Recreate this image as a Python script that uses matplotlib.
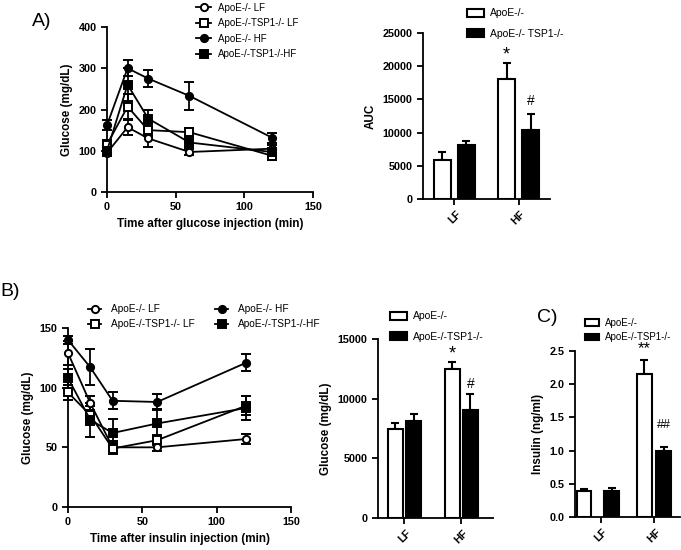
import matplotlib
matplotlib.use("Agg")
import matplotlib.pyplot as plt
from matplotlib import font_manager as fm
from matplotlib.lines import Line2D
from matplotlib.patches import Patch
import numpy as np

# ---------------- data ----------------
time_gtt = [0, 15, 30, 60, 120]
gtt_apoe_lf = [95, 157, 130, 97, 105]
gtt_apoe_lf_err = [8, 18, 20, 8, 8]
gtt_tsp_lf = [115, 207, 150, 145, 88]
gtt_tsp_lf_err = [10, 30, 15, 10, 10]
gtt_apoe_hf = [162, 300, 275, 233, 132]
gtt_apoe_hf_err = [12, 20, 20, 33, 12]
gtt_tsp_hf = [100, 260, 178, 120, 97]
gtt_tsp_hf_err = [10, 40, 20, 10, 10]

diets = ["LF", "HF"]
auc_apoe = [5900, 18050]
auc_apoe_err = [1200, 2400]
auc_tsp = [8200, 10450]
auc_tsp_err = [500, 2350]

time_itt = [0, 15, 30, 60, 120]
itt_apoe_lf = [129, 87, 50, 50, 57]
itt_apoe_lf_err = [10, 6, 5, 3, 4]
itt_tsp_lf = [96, 77, 49, 56, 85]
itt_tsp_lf_err = [6, 8, 5, 4, 8]
itt_apoe_hf = [140, 117, 89, 88, 121]
itt_apoe_hf_err = [3, 15, 7, 7, 7]
itt_tsp_hf = [108, 73, 62, 70, 83]
itt_tsp_hf_err = [8, 14, 12, 12, 10]

itt_auc_apoe = [7420, 12480]
itt_auc_apoe_err = [500, 560]
itt_auc_tsp = [8140, 9040]
itt_auc_tsp_err = [560, 1340]

insulin_apoe = [0.39, 2.16]
insulin_apoe_err = [0.03, 0.20]
insulin_tsp = [0.39, 0.99]
insulin_tsp_err = [0.04, 0.06]

legend_lines = ["ApoE-/- LF", "ApoE-/-TSP1-/- LF", "ApoE-/- HF", "ApoE-/-TSP1-/-HF"]

# ---------------- fonts ----------------
def pick_font(cands):
    for c in cands:
        try:
            fm.findfont(fm.FontProperties(family=c), fallback_to_default=False)
            return c
        except Exception:
            pass
    return "DejaVu Sans"

FONT = pick_font(["Liberation Sans Narrow", "Liberation Sans", "DejaVu Sans"])
plt.rcParams['font.family'] = [FONT, 'DejaVu Sans']
TICK_FS = 7.8
LAB_FS = 8.4

plt.rcParams['axes.linewidth'] = 1.3
plt.rcParams['xtick.major.width'] = 1.3
plt.rcParams['ytick.major.width'] = 1.3
plt.rcParams['xtick.major.size'] = 4
plt.rcParams['ytick.major.size'] = 4

fig = plt.figure(figsize=(6.81, 5.5), dpi=100)


def style(ax):
    ax.spines['top'].set_visible(False)
    ax.spines['right'].set_visible(False)
    ax.tick_params(direction='out', labelsize=TICK_FS)
    for lab in ax.get_xticklabels() + ax.get_yticklabels():
        lab.set_fontweight('bold')


def frac(l, t, r, b):
    W, H = 681, 550
    return [l / W, 1 - b / H, (r - l) / W, (b - t) / H]


series_style = [
    dict(marker='o', mfc='white', mec='black'),
    dict(marker='s', mfc='white', mec='black'),
    dict(marker='o', mfc='black', mec='black'),
    dict(marker='s', mfc='black', mec='black'),
]
MS = 5.2


def line_panel(ax, t, series, errs):
    for ys, es, st in zip(series, errs, series_style):
        ax.errorbar(t, ys, yerr=es, color='black', lw=1.3, capsize=3.5,
                    capthick=1.3, elinewidth=1.3, ms=MS,
                    mew=1.4, clip_on=False, zorder=3, **st)


def line_handles():
    return [Line2D([], [], color='black', lw=1.3, ms=MS, mew=1.4, **st) for st in series_style]


# ---------------- Panel A (GTT) ----------------
axA = fig.add_axes(frac(107, 27, 313, 192))
line_panel(axA, time_gtt, [gtt_apoe_lf, gtt_tsp_lf, gtt_apoe_hf, gtt_tsp_hf],
           [gtt_apoe_lf_err, gtt_tsp_lf_err, gtt_apoe_hf_err, gtt_tsp_hf_err])
axA.set_xlim(0, 150)
axA.set_ylim(0, 400)
axA.set_xticks([0, 50, 100, 150])
axA.set_yticks([0, 100, 200, 300, 400])
axA.set_ylabel("Glucose (mg/dL)", fontsize=LAB_FS, fontweight='bold')
axA.set_xlabel("Time after glucose injection (min)", fontsize=LAB_FS, fontweight='bold')
style(axA)

fig.legend(line_handles(), legend_lines, loc='upper left',
           bbox_to_anchor=(192 / 681, 1 - (-1) / 550),
           frameon=False, fontsize=7, handlelength=1.6, handletextpad=0.7,
           labelspacing=0.56, borderaxespad=0)

fig.text(32 / 681, 1 - 21 / 550, "A)", fontsize=14, va='center', ha='left')


def bar_panel(ax, v1, e1, v2, e2, off1, off2, width):
    x = np.arange(len(diets))
    x1 = x + np.array(off1)
    x2 = x + np.array(off2)
    ax.bar(x1, v1, width, color='white', edgecolor='black', lw=1.5, zorder=2)
    ax.bar(x2, v2, width, color='black', edgecolor='black', lw=1.5, zorder=2)
    ax.errorbar(x1, v1, yerr=[np.zeros(len(v1)), e1], fmt='none', ecolor='black',
                elinewidth=1.5, capsize=3, capthick=1.5, zorder=1)
    ax.errorbar(x2, v2, yerr=[np.zeros(len(v2)), e2], fmt='none', ecolor='black',
                elinewidth=1.5, capsize=3, capthick=1.5, zorder=1)
    ax.set_xticks(x)
    ax.set_xticklabels(diets, rotation=45, ha='center', fontweight='bold')
    return x1, x2


def bar_legend(labels, x_px, y_px, fs, spacing, hl=1.6, hh=0.8):
    h = [Patch(facecolor='white', edgecolor='black', lw=1.5),
         Patch(facecolor='black', edgecolor='black', lw=1.5)]
    fig.legend(h, labels, loc='upper left', bbox_to_anchor=(x_px / 681, 1 - y_px / 550),
               frameon=False, fontsize=fs, handlelength=hl, handleheight=hh,
               handletextpad=0.6, labelspacing=spacing, borderaxespad=0)


# ---------------- Panel A bars (AUC) ----------------
axA2 = fig.add_axes(frac(423, 33, 550, 199))
x1, x2 = bar_panel(axA2, auc_apoe, auc_apoe_err, auc_tsp, auc_tsp_err,
                   [-0.1875, -0.1875], [0.1875, 0.1875], 0.266)
axA2.set_xlim(-0.492, 1.492)
axA2.set_ylim(0, 25000)
axA2.set_yticks([0, 5000, 10000, 15000, 20000, 25000])
axA2.set_ylabel("AUC", fontsize=LAB_FS, fontweight='bold')
style(axA2)
axA2.text(x1[1], auc_apoe[1] + auc_apoe_err[1] + 0, "*", ha='center', va='bottom', fontsize=13)
axA2.text(x2[1], auc_tsp[1] + auc_tsp_err[1] + 900, "#", ha='center', va='bottom', fontsize=10)
bar_legend(["ApoE-/-", "ApoE-/- TSP1-/-"], 463, 4, 7.5, 1.0)

# ---------------- Panel B (ITT) ----------------
axB = fig.add_axes(frac(68, 328, 291, 507))
line_panel(axB, time_itt, [itt_apoe_lf, itt_tsp_lf, itt_apoe_hf, itt_tsp_hf],
           [itt_apoe_lf_err, itt_tsp_lf_err, itt_apoe_hf_err, itt_tsp_hf_err])
axB.set_xlim(0, 150)
axB.set_ylim(0, 150)
axB.set_xticks([0, 50, 100, 150])
axB.set_yticks([0, 50, 100, 150])
axB.set_ylabel("Glucose (mg/dL)", fontsize=LAB_FS, fontweight='bold')
axB.set_xlabel("Time after insulin injection (min)", fontsize=LAB_FS, fontweight='bold')
style(axB)

hB = line_handles()
fig.legend([hB[0], hB[1]], [legend_lines[0], legend_lines[1]], loc='upper left',
           bbox_to_anchor=(84 / 681, 1 - 300 / 550), frameon=False, fontsize=7.3,
           handlelength=1.3, handletextpad=1.0, labelspacing=0.5, borderaxespad=0)
fig.legend([hB[2], hB[3]], [legend_lines[2], legend_lines[3]], loc='upper left',
           bbox_to_anchor=(211 / 681, 1 - 300 / 550), frameon=False, fontsize=7.3,
           handlelength=1.3, handletextpad=1.0, labelspacing=0.5, borderaxespad=0)

fig.text(0 / 681, 1 - 292 / 550, "B)", fontsize=14, va='center', ha='left')

# ---------------- Panel B bars ----------------
axB2 = fig.add_axes(frac(378, 339, 493, 518))
x1, x2 = bar_panel(axB2, itt_auc_apoe, itt_auc_apoe_err, itt_auc_tsp, itt_auc_tsp_err,
                   [-0.158, -0.158], [0.158, 0.158], 0.263)
axB2.set_xlim(-0.465, 1.553)
axB2.set_ylim(0, 15000)
axB2.set_yticks([0, 5000, 10000, 15000])
axB2.set_ylabel("Glucose (mg/dL)", fontsize=LAB_FS, fontweight='bold')
style(axB2)
axB2.text(x1[1], itt_auc_apoe[1] + itt_auc_apoe_err[1] + 0, "*", ha='center', va='bottom', fontsize=13)
axB2.text(x2[1], itt_auc_tsp[1] + itt_auc_tsp_err[1] + 300, "#", ha='center', va='bottom', fontsize=10)
bar_legend(["ApoE-/-", "ApoE-/-TSP1-/-"], 386, 307, 7.5, 1.0)

# ---------------- Panel C (insulin) ----------------
axC = fig.add_axes(frac(575, 351, 680, 517))
x1, x2 = bar_panel(axC, insulin_apoe, insulin_apoe_err, insulin_tsp, insulin_tsp_err,
                   [-0.32, -0.18], [0.2, 0.18], 0.274)
axC.set_xlim(-0.49, 1.49)
axC.set_ylim(0, 2.5)
axC.set_yticks([0, 0.5, 1.0, 1.5, 2.0, 2.5])
axC.set_yticklabels(["0.0", "0.5", "1.0", "1.5", "2.0", "2.5"])
axC.set_ylabel("Insulin (ng/ml)", fontsize=LAB_FS, fontweight='bold')
style(axC)
axC.text(x1[1], insulin_apoe[1] + insulin_apoe_err[1] + 0.06, "**", ha='center', va='bottom', fontsize=12)
axC.text(x2[1], insulin_tsp[1] + insulin_tsp_err[1] + 0.25, "##", ha='center', va='bottom', fontsize=9)
bar_legend(["ApoE-/-", "ApoE-/-TSP1-/-"], 581, 314, 7.0, 0.45, hl=1.5, hh=0.6)
fig.text(537 / 681, 1 - 317 / 550, "C)", fontsize=14, va='center', ha='left')

fig.savefig("out.png", dpi=100)
